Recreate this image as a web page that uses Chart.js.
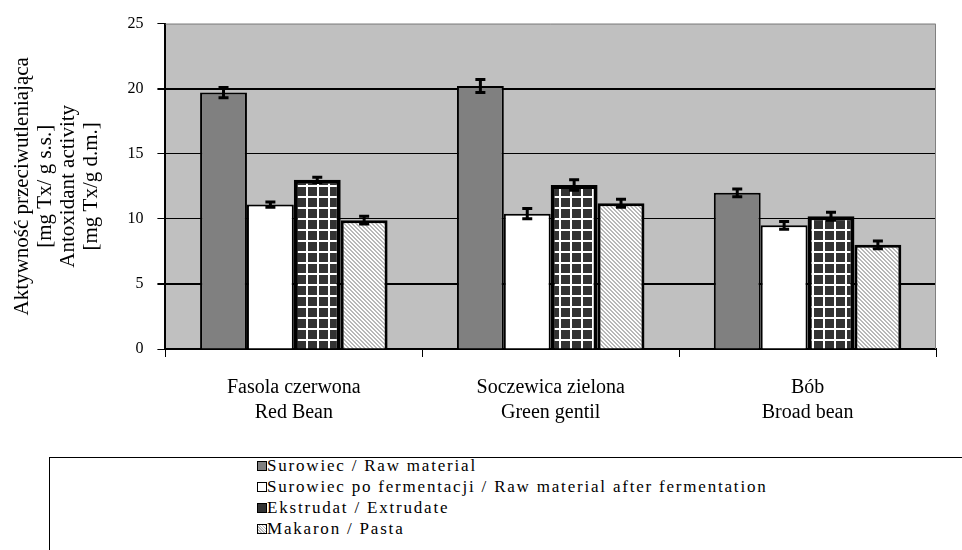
<!DOCTYPE html>
<html>
<head>
<meta charset="utf-8">
<script src="https://cdn.jsdelivr.net/npm/chart.js@4.4.1/dist/chart.umd.min.js"></script>
<style>
  body { margin: 0; background: #fff; }
  #wrap { position: absolute; left: 0; top: 0; width: 962px; height: 445px; }
  #legend {
    position: absolute; left: 49px; top: 457px; width: 1000px; height: 120px;
    border: 1px solid #000; box-sizing: border-box;
    font-family: "Liberation Serif", "Times New Roman", serif; font-size: 17px; letter-spacing: 1.8px;
  }
  .item { position: absolute; left: 207px; height: 21px; line-height: 21px; white-space: nowrap; }
  .sw { display: inline-block; width: 8px; height: 8px; border: 1px solid #000; margin-right: 0px; vertical-align: 0px; }
</style>
</head>
<body>
<div id="wrap"><canvas id="chart"></canvas></div>
<div id="legend"></div>
<script>
// categories (two-line labels)
var categories = [
  ["Fasola czerwona", "Red Bean"],
  ["Soczewica zielona", "Green gentil"],
  ["Bób", "Broad bean"]
];
var seriesNames = [
  "Surowiec / Raw material",
  "Surowiec po fermentacji / Raw material after fermentation",
  "Ekstrudat / Extrudate",
  "Makaron / Pasta"
];
// values per series, in category order
var rawMaterial = [19.7, 20.2, 12.0];
var afterFermentation = [11.1, 10.4, 9.5];
var extrudate = [13.0, 12.6, 10.2];
var pasta = [9.9, 11.2, 8.0];
// error bar half-widths
var rawMaterialErr = [0.4, 0.5, 0.3];
var afterFermentationErr = [0.2, 0.4, 0.3];
var extrudateErr = [0.2, 0.4, 0.3];
var pastaErr = [0.3, 0.3, 0.3];
var yTitle = ["Aktywność przeciwutleniająca", "[mg Tx/ g s.s.]", "Antoxidant activity", "[mg Tx/g d.m.]"];

var serif = "'Liberation Serif', 'Times New Roman', serif";

function makePattern(w, h, draw) {
  var c = document.createElement("canvas");
  c.width = w; c.height = h;
  var g = c.getContext("2d");
  draw(g);
  return document.getElementById("chart").getContext("2d").createPattern(c, "repeat");
}

// dark grid for extrudate
var gridPattern = makePattern(11, 11, function (g) {
  g.fillStyle = "#333333";
  g.fillRect(0, 0, 11, 11);
  g.fillStyle = "#ffffff";
  g.fillRect(9, 0, 2, 11);
  g.fillRect(0, 9, 11, 2);
});
// light diagonal hatch for pasta
var hatchPattern = makePattern(4, 4, function (g) {
  g.fillStyle = "#ffffff";
  g.fillRect(0, 0, 4, 4);
  g.fillStyle = "#b8b8b8";
  for (var i = 0; i < 4; i++) {
    g.fillRect(i, i, 1, 1);
    g.fillRect((i + 1) % 4, i, 1, 1);
  }
});

var errors = [rawMaterialErr, afterFermentationErr, extrudateErr, pastaErr];

var plotBg = {
  id: "plotBg",
  beforeDraw: function (chart) {
    var a = chart.chartArea, ctx = chart.ctx;
    ctx.save();
    ctx.fillStyle = "#c0c0c0";
    ctx.fillRect(a.left, a.top, a.right - a.left, a.bottom - a.top);
    ctx.restore();
  },
  afterDraw: function (chart) {
    var a = chart.chartArea, ctx = chart.ctx;
    ctx.save();
    ctx.strokeStyle = "#808080";
    ctx.lineWidth = 1;
    ctx.beginPath();
    ctx.moveTo(a.left, a.top + 0.5);
    ctx.lineTo(a.right - 0.5, a.top + 0.5);
    ctx.lineTo(a.right - 0.5, a.bottom);
    ctx.stroke();
    ctx.restore();
  }
};

var errorBars = {
  id: "errorBars",
  afterDatasetsDraw: function (chart) {
    var ctx = chart.ctx, y = chart.scales.y;
    ctx.save();
    ctx.strokeStyle = "#000";
    ctx.lineWidth = 3;
    chart.data.datasets.forEach(function (ds, i) {
      chart.getDatasetMeta(i).data.forEach(function (bar, j) {
        var v = ds.data[j], e = errors[i][j];
        var top = y.getPixelForValue(v + e), bot = y.getPixelForValue(v - e);
        ctx.beginPath();
        ctx.moveTo(bar.x, top); ctx.lineTo(bar.x, bot);
        ctx.moveTo(bar.x - 5, top); ctx.lineTo(bar.x + 5, top);
        ctx.moveTo(bar.x - 5, bot); ctx.lineTo(bar.x + 5, bot);
        ctx.stroke();
      });
    });
    ctx.restore();
  }
};

var chart = new Chart(document.getElementById("chart"), {
  type: "bar",
  data: {
    labels: categories,
    datasets: [
      { label: seriesNames[0], data: rawMaterial, backgroundColor: "#808080", borderColor: "#000", borderWidth: 2 },
      { label: seriesNames[1], data: afterFermentation, backgroundColor: "#ffffff", borderColor: "#000", borderWidth: 2 },
      { label: seriesNames[2], data: extrudate, backgroundColor: gridPattern, borderColor: "#000", borderWidth: 4 },
      { label: seriesNames[3], data: pasta, backgroundColor: hatchPattern, borderColor: "#000", borderWidth: 3 }
    ]
  },
  options: {
    responsive: true,
    maintainAspectRatio: false,
    animation: false,
    categoryPercentage: 0.73,
    barPercentage: 1,
    layout: { padding: { left: 11, right: 26, top: 13, bottom: 2 } },
    plugins: { legend: { display: false }, tooltip: { enabled: false } },
    scales: {
      x: {
        border: { color: "#000", width: 2 },
        grid: { drawOnChartArea: false, color: "#000", tickLength: 8, offset: true },
        ticks: { color: "#000", padding: 18, font: { family: serif, size: 20, lineHeight: 1.25 } }
      },
      y: {
        min: 0, max: 25,
        border: { color: "#000", width: 2 },
        grid: {
          color: function (c) { return c.tick && c.tick.value === 25 ? "rgba(0,0,0,0)" : "#000"; },
          lineWidth: function (c) { var v = c.tick && c.tick.value; return (v === 20 || v === 5) ? 2 : 1; },
          tickColor: "#000",
          tickLength: 8
        },
        ticks: { stepSize: 5, color: "#000", padding: 14, font: { family: serif, size: 16 } },
        title: {
          display: true, text: yTitle, color: "#000",
          font: { family: serif, size: 21, lineHeight: 1.1 },
          padding: { top: 0, bottom: 10 }
        }
      }
    }
  },
  plugins: [plotBg, errorBars]
});

// legend as html, built from the series names
var swatches = [
  "background:#808080",
  "background:#ffffff",
  "background:#333333",
  "background:repeating-linear-gradient(45deg,#b8b8b8 0 1px,#fff 1px 2px)"
];
var legend = document.getElementById("legend");
seriesNames.forEach(function (name, i) {
  var d = document.createElement("div");
  d.className = "item";
  d.style.top = (-3 + i * 21) + "px";
  d.innerHTML = '<span class="sw" style="' + swatches[i] + '"></span>';
  d.appendChild(document.createTextNode(name));
  legend.appendChild(d);
});
</script>
</body>
</html>
